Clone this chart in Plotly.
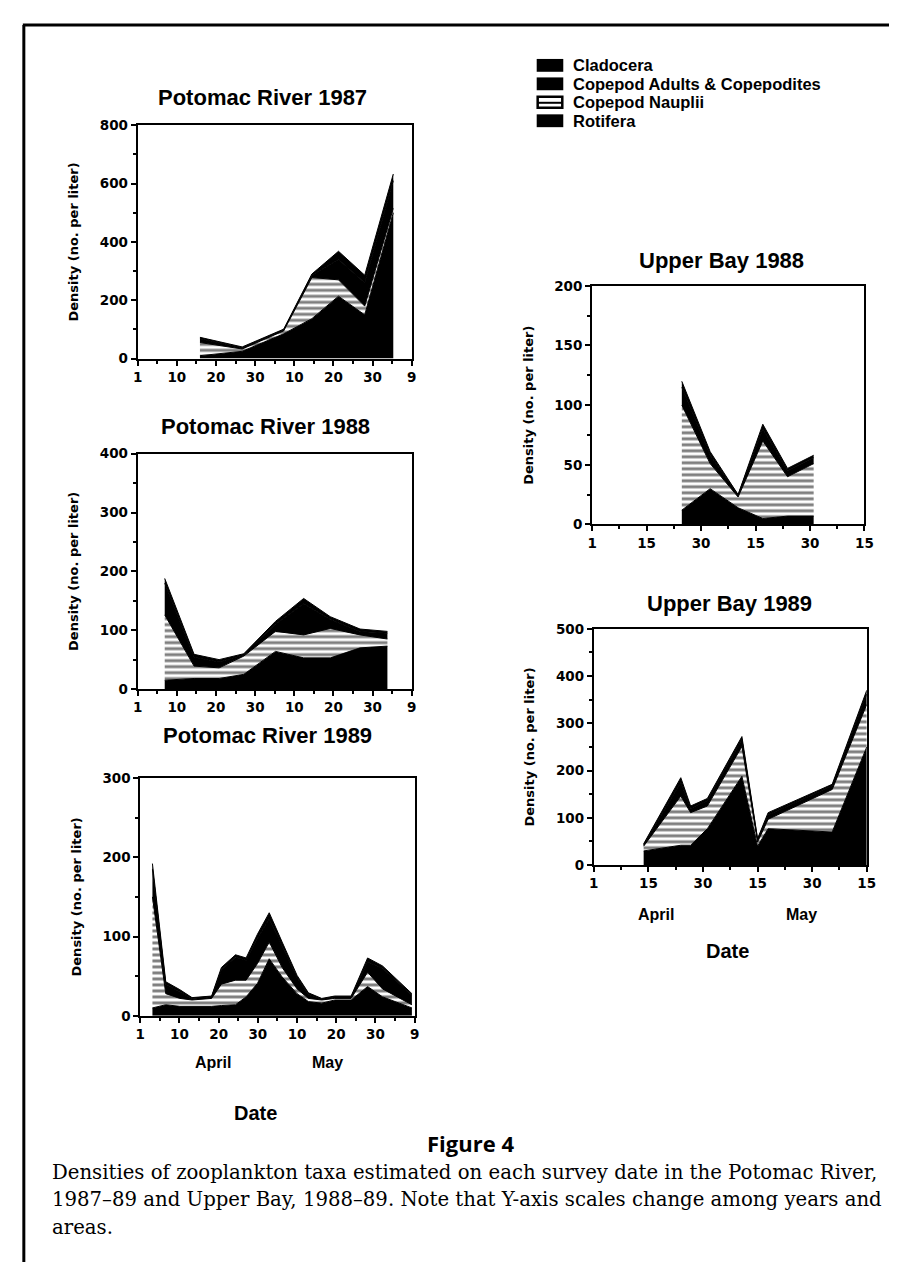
import plotly.graph_objects as go

W, H = 897, 1262


def fx(p):
    return p / W


def fy(p):
    return 1 - p / H


# ---------------- data (days counted from 1 April; values = density per liter) ----------------
SERIES = ["Rotifera", "Copepod Nauplii", "Copepod Adults & Copepodites", "Cladocera"]
LEGEND_ORDER = ["Cladocera", "Copepod Adults & Copepodites", "Copepod Nauplii", "Rotifera"]

pot_tick_vals = [0, 10, 20, 30, 40, 50, 60, 70]
pot_tick_text = ["1", "10", "20", "30", "10", "20", "30", "9"]
bay_tick_vals = [0, 15, 30, 45, 60, 75]
bay_tick_text = ["1", "15", "30", "15", "30", "15"]

p87_days = [15.9, 26.7, 37.3, 44.5, 51.3, 58.0, 65.3]
p87_rot = [10, 25, 85, 137, 214, 150, 500]
p87_naup = [45, 8, 10, 141, 56, 30, 15]
p87_adult = [13, 4, 4, 8, 70, 80, 95]
p87_clad = [5, 3, 2, 4, 28, 26, 23]

p88_days = [6.9, 14.4, 20.8, 27.1, 35.2, 42.4, 49.2, 56.8, 63.8]
p88_rot = [15, 18, 18, 25, 64, 53, 53, 70, 73]
p88_naup = [111, 21, 18, 31, 34, 39, 50, 22, 12]
p88_adult = [54, 15, 10, 2, 12, 53, 15, 6, 10]
p88_clad = [8, 5, 4, 2, 5, 9, 5, 4, 3]

p89_days = [3.1, 6.5, 10.1, 13.2, 18.2, 20.7, 24.3, 27.0, 29.9, 32.9,
            36.2, 40.0, 42.9, 46.3, 49.6, 53.8, 58.0, 61.8, 69.3]
p89_rot = [10, 14, 12, 12, 12, 13, 14, 24, 41, 72, 49, 28, 18, 16, 20, 20, 37, 24, 10]
p89_naup = [140, 14, 10, 8, 10, 27, 31, 21, 25, 21, 12, 6, 4, 4, 2, 2, 18, 10, 4]
p89_adult = [35, 12, 8, 2, 2, 18, 29, 25, 32, 29, 27, 14, 5, 1, 2, 2, 13, 26, 12]
p89_clad = [7, 3, 3, 1, 1, 3, 3, 3, 5, 8, 5, 3, 2, 1, 1, 1, 5, 3, 2]

b88_days = [24.7, 32.5, 40.2, 47.0, 53.8, 61.0]
b88_rot = [12, 30, 14, 5, 7, 7]
b88_naup = [88, 21, 9, 65, 33, 44]
b88_adult = [15, 7, 2, 10, 5, 5]
b88_clad = [5, 3, 0, 4, 2, 2]

b89_days = [13.7, 23.9, 26.6, 31.2, 40.7, 45.0, 47.9, 65.5, 75.0]
b89_rot = [30, 42, 42, 77, 188, 40, 77, 70, 250]
b89_naup = [10, 104, 69, 48, 63, 9, 20, 90, 90]
b89_adult = [3, 29, 9, 11, 15, 5, 9, 8, 22]
b89_clad = [2, 10, 5, 5, 6, 2, 5, 3, 8]

# ---------------- layout of panels (pixel boxes) ----------------
panels = [
    dict(title="Potomac River 1987", days=p87_days,
         vals=[p87_rot, p87_naup, p87_adult, p87_clad],
         xmax=70, tv=pot_tick_vals, tt=pot_tick_text, xminor=5,
         ymax=800, ystep=200, yminor=100,
         box=(126.7, 405, 110.7, 347), tpos=(253, 83)),
    dict(title="Potomac River 1988", days=p88_days,
         vals=[p88_rot, p88_naup, p88_adult, p88_clad],
         xmax=70, tv=pot_tick_vals, tt=pot_tick_text, xminor=5,
         ymax=400, ystep=100, yminor=50,
         box=(126.7, 405, 443.3, 681.7), tpos=(256.7, 416)),
    dict(title="Potomac River 1989", days=p89_days,
         vals=[p89_rot, p89_naup, p89_adult, p89_clad],
         xmax=70, tv=pot_tick_vals, tt=pot_tick_text, xminor=5,
         ymax=300, ystep=100, yminor=50,
         box=(129.3, 408, 771.7, 1012.7), tpos=(258.3, 729)),
    dict(title="Upper Bay 1988", days=b88_days,
         vals=[b88_rot, b88_naup, b88_adult, b88_clad],
         xmax=75, tv=bay_tick_vals, tt=bay_tick_text, xminor=7.5,
         ymax=200, ystep=50, yminor=25,
         box=(588.3, 865, 273.3, 515), tpos=(720, 248)),
    dict(title="Upper Bay 1989", days=b89_days,
         vals=[b89_rot, b89_naup, b89_adult, b89_clad],
         xmax=75, tv=bay_tick_vals, tt=bay_tick_text, xminor=7.5,
         ymax=500, ystep=100, yminor=50,
         box=(590, 867.3, 620.7, 860), tpos=(728, 595)),
]

TICKFONT = dict(family="DejaVu Sans", size=13.5, color="black", weight="bold")
TITLEFONT = dict(family="Liberation Sans", size=22, color="black", weight="bold")

fig = go.Figure()
annotations = []
shapes = []
layout_axes = {}

for i, p in enumerate(panels, 1):
    xa = "x" if i == 1 else f"x{i}"
    ya = "y" if i == 1 else f"y{i}"
    for name, vals in zip(SERIES, p["vals"]):
        kw = dict(fillcolor="black")
        if name == "Copepod Nauplii":
            kw = dict(fillcolor="white",
                      fillpattern=dict(shape="-", fgcolor="black", bgcolor="white",
                                       size=6, solidity=0.5))
        fig.add_trace(go.Scatter(
            x=p["days"], y=vals, mode="lines", stackgroup=f"s{i}",
            name=name, legendgroup=name, showlegend=False,
            line=dict(width=1, color="black"), xaxis=xa, yaxis=ya,
            hoverinfo="skip", **kw))
    x0, x1, y0, y1 = p["box"]
    xkey = "xaxis" if i == 1 else f"xaxis{i}"
    ykey = "yaxis" if i == 1 else f"yaxis{i}"
    layout_axes[xkey] = dict(
        domain=[fx(x0), fx(x1)], anchor=ya, range=[0, p["xmax"]],
        tickmode="array", tickvals=p["tv"], ticktext=p["tt"],
        ticks="outside", ticklen=5, tickwidth=2, tickcolor="black",
        showline=True, linewidth=2, linecolor="black", mirror=True,
        showgrid=False, zeroline=False, tickfont=TICKFONT,
        minor=dict(dtick=p["xminor"], tick0=0, ticks="outside", ticklen=3,
                   tickwidth=1.5, tickcolor="black", showgrid=False),
        fixedrange=True)
    layout_axes[ykey] = dict(
        domain=[fy(y1), fy(y0)], anchor=xa, range=[0, p["ymax"]],
        dtick=p["ystep"], tick0=0,
        ticks="outside", ticklen=5, tickwidth=2, tickcolor="black",
        showline=True, linewidth=2, linecolor="black", mirror=True,
        showgrid=False, zeroline=False, tickfont=TICKFONT,
        minor=dict(dtick=p["yminor"], tick0=0, ticks="outside", ticklen=3,
                   tickwidth=1.5, tickcolor="black", showgrid=False),
        title=dict(text="Density (no. per liter)", standoff=18,
                   font=dict(family="DejaVu Sans", size=13, color="black", weight="bold")),
        fixedrange=True)
    annotations.append(dict(text=p["title"], x=fx(p["tpos"][0]), y=fy(p["tpos"][1]),
                            xref="paper", yref="paper", showarrow=False,
                            xanchor="center", yanchor="middle", font=TITLEFONT))

# ---------------- legend (drawn as swatches + labels) ----------------
LEGF = dict(family="Liberation Sans", size=16.5, color="black", weight="bold")
for k, name in enumerate(LEGEND_ORDER):
    cy = 50 + 18.7 * k
    if name == "Copepod Nauplii":
        shapes.append(dict(type="rect", xref="paper", yref="paper",
                           x0=fx(533), x1=fx(558), y0=fy(cy + 5.5), y1=fy(cy - 5.5),
                           fillcolor="white", line=dict(color="black", width=2.5)))
        shapes.append(dict(type="line", xref="paper", yref="paper",
                           x0=fx(533), x1=fx(558), y0=fy(cy + 0.5), y1=fy(cy + 0.5),
                           line=dict(color="black", width=2)))
    else:
        shapes.append(dict(type="rect", xref="paper", yref="paper",
                           x0=fx(532), x1=fx(559), y0=fy(cy + 6.5), y1=fy(cy - 6.5),
                           fillcolor="black", line=dict(width=0)))
    annotations.append(dict(text=name, x=fx(567), y=fy(cy), xref="paper", yref="paper",
                            showarrow=False, xanchor="left", yanchor="middle", font=LEGF))

LBL = dict(family="Liberation Sans", size=16, color="black", weight="bold")
for txt, px, py in [("April", 203, 1060), ("May", 319, 1060),
                    ("April", 653, 910), ("May", 801, 910)]:
    annotations.append(dict(text=txt, x=fx(px), y=fy(py), xref="paper", yref="paper",
                            showarrow=False, xanchor="center", yanchor="middle", font=LBL))
DATEF = dict(family="Liberation Sans", size=20, color="black", weight="bold")
for px, py in [(246, 1111), (726, 947)]:
    annotations.append(dict(text="Date", x=fx(px), y=fy(py), xref="paper", yref="paper",
                            showarrow=False, xanchor="center", yanchor="middle", font=DATEF))

annotations.append(dict(text="Figure 4", x=fx(465), y=fy(1141), xref="paper", yref="paper",
                        showarrow=False, xanchor="center", yanchor="middle",
                        font=dict(family="Open Sans", size=22, color="black", weight="bold")))
CAP = dict(family="DejaVu Serif", size=19.7, color="black")
caption_lines = [
    "Densities of zooplankton taxa estimated on each survey date in the Potomac River,",
    "1987–89 and Upper Bay, 1988–89. Note that Y-axis scales change among years and",
    "areas.",
]
for k, line in enumerate(caption_lines):
    annotations.append(dict(text=line, x=fx(38), y=fy(1171 + 28 * k), xref="paper", yref="paper",
                            showarrow=False, xanchor="left", yanchor="middle", font=CAP))

shapes += [
    dict(type="line", xref="paper", yref="paper", x0=fx(10), x1=1, y0=fy(9), y1=fy(9),
         line=dict(color="black", width=3)),
    dict(type="line", xref="paper", yref="paper", x0=fx(11), x1=fx(11), y0=fy(9), y1=0,
         line=dict(color="black", width=3)),
]

fig.update_layout(
    width=W, height=H, margin=dict(l=0, r=0, t=0, b=0),
    paper_bgcolor="white", plot_bgcolor="white",
    showlegend=False,
    annotations=annotations, shapes=shapes,
    **layout_axes,
)

fig.write_html("out.html")
